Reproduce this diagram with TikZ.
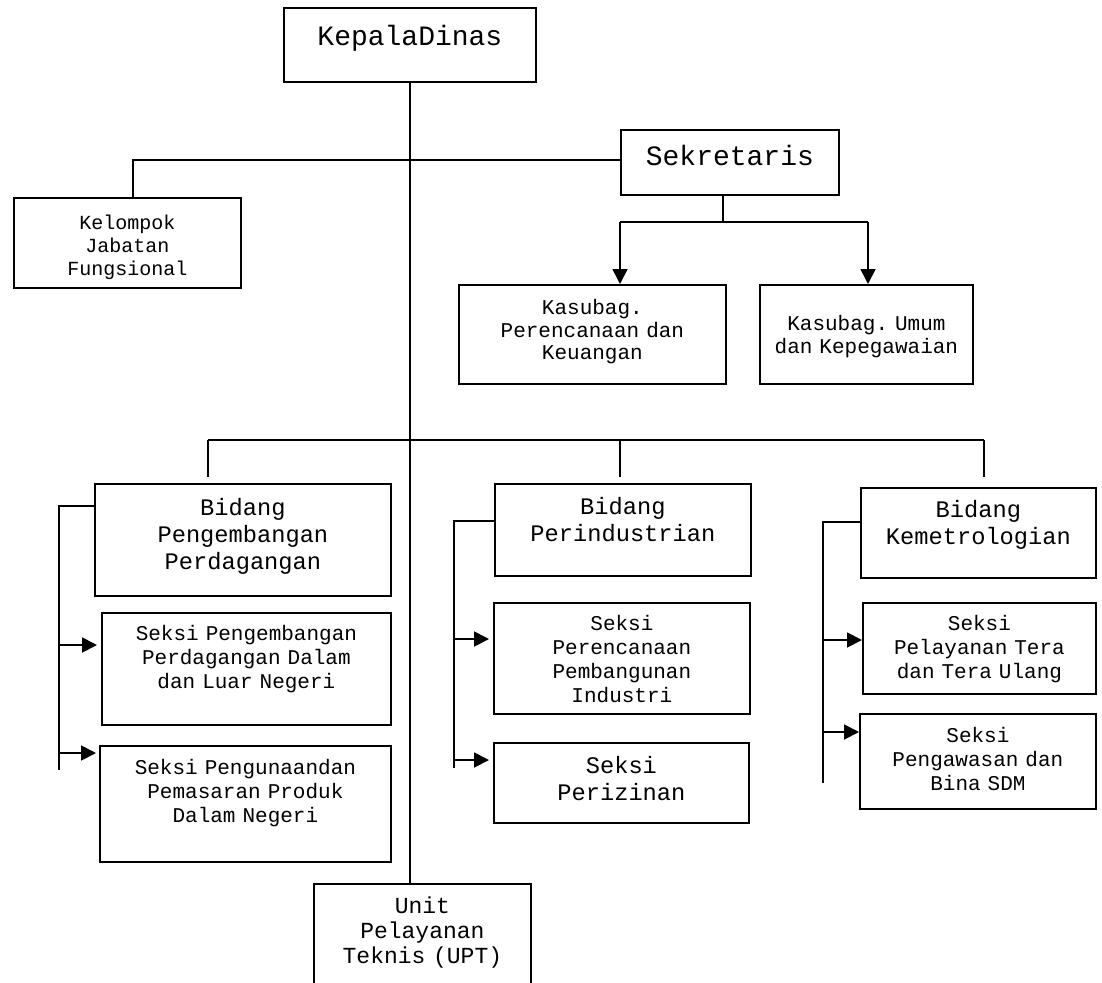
\documentclass[tikz,border=0pt]{standalone}
\usepackage{fontspec}
\setmainfont{Liberation Mono}
\frenchspacing
\usetikzlibrary{arrows.meta}
\newcommand\orgsize[2]{\fontsize{#1}{#2}\selectfont\spaceskip=0.6em\relax}

\begin{document}
\begin{tikzpicture}[x=1pt,y=-1pt]
\tikzstyle{unit}=[draw, line width=1.8pt, anchor=north west, inner sep=0pt, align=center]
\tikzstyle{head}=[font=\orgsize{28}{30}]
\tikzstyle{mid}=[font=\orgsize{23.7}{27}]
\tikzstyle{small}=[font=\orgsize{21}{24}]
\tikzstyle{arr}=[line width=1.8pt, -{Triangle[length=15pt,width=15pt]}]
\tikzstyle{link}=[line width=1.8pt]
\useasboundingbox (0,0) rectangle (1102,982);

% top
\node[unit, head, text width=252pt, text height=38pt, text depth=36pt] (kd) at (283,7) {KepalaDinas};
\node[unit, head, text width=218pt, text height=36pt, text depth=29pt] (sek) at (620,129) {Sekretaris};
\node[unit, font=\orgsize{20}{23}, text width=227pt, text height=32pt, text depth=58pt] (kel) at (13,197) {Kelompok\\Jabatan\\Fungsional};
\node[unit, font=\orgsize{21}{22.5}, text width=267pt, text height=30pt, text depth=69pt] (ksl) at (458,284) {Kasubag.\\Perencanaan dan\\Keuangan};
\node[unit, font=\orgsize{21}{22.5}, text width=213pt, text height=46pt, text depth=53pt] (ksr) at (759,284) {Kasubag. Umum\\dan Kepegawaian};

% bidang
\node[unit, mid, text width=296pt, text height=32pt, text depth=80pt] (bpg) at (94,483) {Bidang\\Pengembangan\\Perdagangan};
\node[unit, small, text width=289pt, text height=28pt, text depth=84pt] (sp1) at (101,612) {Seksi Pengembangan\\Perdagangan Dalam\\dan Luar Negeri};
\node[unit, small, text width=291pt, text height=29pt, text depth=87pt] (sp2) at (99,745) {Seksi Pengunaandan\\Pemasaran Produk\\Dalam Negeri};

\node[unit, mid, text width=256pt, text height=31pt, text depth=61pt] (bpi) at (494,483) {Bidang\\Perindustrian};
\node[unit, small, text width=256pt, text height=28pt, text depth=83pt] (si1) at (493,602) {Seksi\\Perencanaan\\Pembangunan\\Industri};
\node[unit, mid, text width=255pt, text height=31pt, text depth=49pt] (si2) at (493,742) {Seksi\\Perizinan};

\node[unit, mid, text width=235pt, text height=30pt, text depth=60pt] (bkm) at (860,487) {Bidang\\Kemetrologian};
\node[unit, small, text width=233pt, text height=28pt, text depth=63pt] (sk1) at (862,602) {Seksi\\Pelayanan Tera\\dan Tera Ulang};
\node[unit, small, text width=236pt, text height=29pt, text depth=66pt] (sk2) at (859,713) {Seksi\\Pengawasan dan\\Bina SDM};

\node[unit, font=\orgsize{23}{25}, text width=217pt, text height=30pt, text depth=87pt] (upt) at (313,883) {Unit\\Pelayanan\\Teknis (UPT)};

% lines
\draw[link] (kd.south) -- (kd.south |- upt.north);
\coordinate (j1) at (133,160);
\draw[link] (sek.west |- j1) -- (j1) -- (j1 |- kel.north);

\coordinate (sa) at (620,222);
\coordinate (sb) at (868,222);
\coordinate (sc) at (723,222);
\draw[link] (sc |- sek.south) -- (sc);
\draw[link] (sa) -- (sb);
\draw[arr] (sa) -- (sa |- ksl.north);
\draw[arr] (sb) -- (sb |- ksr.north);

\coordinate (ta) at (208,440);
\coordinate (tc) at (984,440);
\draw[link] (ta) -- (tc);
\foreach \x/\n in {208/a,620/b,984/c} {
  \coordinate (u\n) at (\x,440);
  \coordinate (e\n) at (\x,477);
  \draw[link] (u\n) -- (e\n);
}

\coordinate (la) at (59,506);
\coordinate (lz) at (59,770);
\coordinate (l1) at (59,645);
\coordinate (l2) at (59,753);
\draw[link] (la -| bpg.west) -- (la) -- (lz);
\draw[arr, shorten >=4pt] (l1) -- (l1 -| sp1.west);
\draw[arr, shorten >=3pt] (l2) -- (l2 -| sp2.west);

\coordinate (ma) at (454,521);
\coordinate (mz) at (454,768);
\coordinate (m1) at (454,639);
\coordinate (m2) at (454,760);
\draw[link] (ma -| bpi.west) -- (ma) -- (mz);
\draw[arr, shorten >=4pt] (m1) -- (m1 -| si1.west);
\draw[arr, shorten >=4pt] (m2) -- (m2 -| si2.west);

\coordinate (ra) at (823,522);
\coordinate (rz) at (823,783);
\coordinate (r1) at (823,640);
\coordinate (r2) at (823,732);
\draw[link] (ra -| bkm.west) -- (ra) -- (rz);
\draw[arr] (r1) -- (r1 -| sk1.west);
\draw[arr] (r2) -- (r2 -| sk2.west);

\end{tikzpicture}
\end{document}
